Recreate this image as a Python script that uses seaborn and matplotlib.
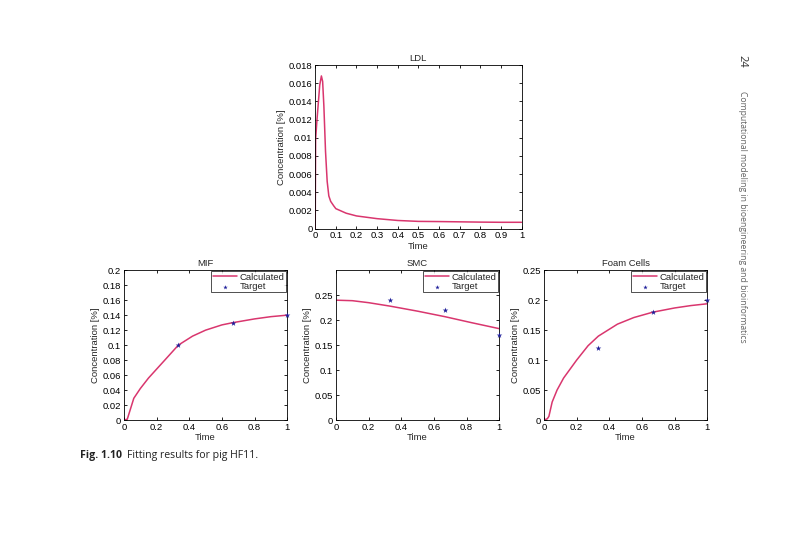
import seaborn as sns
import matplotlib.pyplot as plt
import pandas as pd
import numpy as np

# LDL curve (no targets)
ldl_t = [0, 0.002, 0.008, 0.015, 0.022, 0.03, 0.036, 0.042, 0.05, 0.058, 0.066, 0.075,
         0.09, 0.1, 0.15, 0.2, 0.3, 0.4, 0.5, 0.6, 0.7, 0.8, 0.9, 1.0]
ldl_c = [0, 0.0098, 0.0118, 0.0138, 0.0158, 0.0168, 0.0162, 0.0135, 0.0085, 0.0052, 0.0036, 0.003,
         0.0025, 0.0022, 0.0017, 0.0014, 0.0011, 0.0009, 0.0008, 0.00078, 0.00075, 0.00072, 0.0007, 0.0007]

# MIF
mif_t = [0, 0.02, 0.04, 0.06, 0.1, 0.15, 0.2, 0.25, 0.333, 0.42, 0.5, 0.6, 0.667, 0.8, 0.9, 1.0]
mif_c = [0, 0.001, 0.015, 0.029, 0.042, 0.056, 0.068, 0.08, 0.1, 0.112, 0.12, 0.127, 0.13, 0.135, 0.138, 0.14]
mif_target_t = [0.333, 0.667, 1.0]
mif_target_c = [0.1, 0.13, 0.14]

# SMC
smc_t = [0, 0.1, 0.2, 0.333, 0.5, 0.667, 0.83, 1.0]
smc_c = [0.24, 0.239, 0.235, 0.228, 0.218, 0.207, 0.195, 0.183]
smc_target_t = [0.333, 0.667, 1.0]
smc_target_c = [0.24, 0.22, 0.17]

# Foam cells
foam_t = [0, 0.02, 0.03, 0.05, 0.08, 0.12, 0.2, 0.27, 0.333, 0.45, 0.55, 0.667, 0.8, 0.9, 1.0]
foam_c = [0, 0.002, 0.006, 0.03, 0.05, 0.07, 0.1, 0.124, 0.14, 0.16, 0.171, 0.18, 0.187, 0.191, 0.194]
foam_target_t = [0.333, 0.667, 1.0]
foam_target_c = [0.12, 0.18, 0.2]

sns.set_theme(style="ticks")
plt.rcParams['font.family'] = ['Liberation Sans', 'DejaVu Sans']
plt.rcParams['xtick.direction'] = 'in'
plt.rcParams['ytick.direction'] = 'in'

line_col = "#d9366e"
dot_col = "#1f1f9a"
fs = 6.8

fig = plt.figure(figsize=(8, 5.33), dpi=100)


def style_ax(ax, title, xlim, ylim, yticks, xticks):
    ax.set_xlim(*xlim)
    ax.set_ylim(*ylim)
    ax.set_xticks(xticks)
    ax.set_yticks(yticks)
    ax.set_xticklabels([f"{v:g}" for v in xticks], fontsize=fs)
    ax.set_yticklabels([f"{v:g}" for v in yticks], fontsize=fs)
    ax.tick_params(top=True, right=True, length=2.5, width=0.6, pad=2, colors="black")
    for s in ax.spines.values():
        s.set_visible(True)
        s.set_linewidth(0.6)
        s.set_color("black")
    ax.set_title(title, fontsize=fs, pad=3)
    ax.set_xlabel("Time", fontsize=fs, labelpad=1)
    ax.set_ylabel("Concentration [%]", fontsize=fs, labelpad=2)


# LDL
ax = fig.add_axes([0.394, 0.571, 0.258, 0.307])
sns.lineplot(x=ldl_t, y=ldl_c, ax=ax, color=line_col, lw=1.1)
style_ax(ax, "LDL", (0, 1), (0, 0.018), np.arange(0, 0.0181, 0.002).round(3),
         np.arange(0, 1.01, 0.1).round(1))

panels = [
    ("MIF", 0.155, mif_t, mif_c, mif_target_t, mif_target_c, (0, 0.2),
     np.arange(0, 0.201, 0.02).round(2)),
    ("SMC", 0.42, smc_t, smc_c, smc_target_t, smc_target_c, (0, 0.3),
     np.arange(0, 0.251, 0.05).round(2)),
    ("Foam Cells", 0.68, foam_t, foam_c, foam_target_t, foam_target_c, (0, 0.25),
     np.arange(0, 0.251, 0.05).round(2)),
]

for title, left, t, c, tt, tc, ylim, yt in panels:
    ax = fig.add_axes([left, 0.212, 0.204, 0.281])
    sns.lineplot(x=t, y=c, ax=ax, color=line_col, lw=1.1, label="Calculated")
    sns.scatterplot(x=tt, y=tc, ax=ax, color=dot_col, marker="*", s=18,
                    linewidth=0, label="Target", clip_on=False, zorder=5)
    style_ax(ax, title, (0, 1), ylim, yt, np.arange(0, 1.01, 0.2).round(1))
    leg = ax.legend(loc="upper right", fontsize=fs, frameon=True, fancybox=False,
                    borderpad=0.15, labelspacing=0.05, handlelength=2.6,
                    handletextpad=0.3, borderaxespad=0.1, markerscale=0.8)
    leg.get_frame().set_edgecolor("black")
    leg.get_frame().set_linewidth(0.6)

fig.text(0.1, 0.146, "Fig. 1.10", fontsize=7.6, fontweight="bold",
         family=["Open Sans", "DejaVu Sans"], color="#222222", va="center")
fig.text(0.159, 0.146, "Fitting results for pig HF11.", fontsize=7.6,
         family=["Open Sans", "DejaVu Sans"], color="#222222", va="center")

fig.text(0.927, 0.885, "24", fontsize=8, rotation=-90, ha="center", va="center",
         family=["Open Sans", "DejaVu Sans"], color="#333333")
fig.text(0.928, 0.593, "Computational modeling in bioengineering and bioinformatics",
         fontsize=6.2, rotation=-90, ha="center", va="center",
         family=["Open Sans", "DejaVu Sans"], color="#666666")

plt.savefig("out.png", dpi=100)
